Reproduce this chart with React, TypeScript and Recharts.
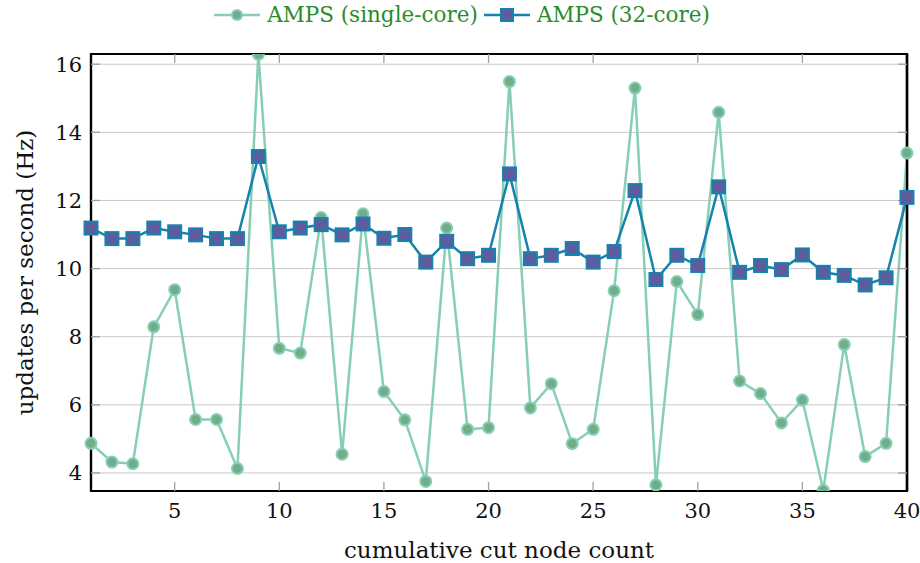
import { LineChart, Line, XAxis, YAxis, CartesianGrid, Legend, ReferenceArea, ReferenceLine } from "recharts";

const nodeCounts = Array.from({ length: 40 }, (_, i) => i + 1);

const singleCore = [
  4.87, 4.32, 4.27, 8.29, 9.38, 5.57, 5.57, 4.13, 16.29, 7.66,
  7.52, 11.5, 4.55, 11.61, 6.39, 5.56, 3.75, 11.19, 5.28, 5.33,
  15.49, 5.91, 6.62, 4.86, 5.28, 9.35, 15.3, 3.65, 9.62, 8.65,
  14.59, 6.7, 6.33, 5.47, 6.14, 3.49, 7.77, 4.48, 4.87, 13.39,
];

const core32 = [
  11.19, 10.88, 10.88, 11.19, 11.08, 10.99, 10.88, 10.88, 13.29, 11.08,
  11.19, 11.29, 10.99, 11.31, 10.89, 11.0, 10.19, 10.8, 10.29, 10.39,
  12.78, 10.29, 10.39, 10.59, 10.19, 10.5, 12.29, 9.68, 10.39, 10.09,
  12.4, 9.89, 10.09, 9.97, 10.4, 9.89, 9.8, 9.52, 9.73, 12.09,
];

const xTicks = [5, 10, 15, 20, 25, 30, 35, 40];
const yTicks = [4, 6, 8, 10, 12, 14, 16];
const Y_MIN = 3.47;
const Y_MAX = 16.3;

const SINGLE_LINE = "#86cfb6";
const SINGLE_FILL = "#72ad8a";
const MULTI_LINE = "#1683ad";
const MULTI_FILL = "#5d5c9e";
const TICK_GRAY = "#a0a0a0";
const FONT = "DejaVu Serif";

const data = nodeCounts.map((x, i) => ({
  x,
  single: singleCore[i],
  multi: core32[i],
}));

function SquareDot(props: any) {
  const { cx, cy, index } = props;
  if (cx == null || cy == null) return null;
  return (
    <rect
      key={`sq-${index}`}
      x={cx - 6.5}
      y={cy - 6.5}
      width={13}
      height={13}
      fill={MULTI_FILL}
      stroke={MULTI_LINE}
      strokeWidth={2}
    />
  );
}

function LegendContent() {
  const item = (label: string, square: boolean) => (
    <span style={{ display: "inline-flex", alignItems: "center", marginRight: 6 }}>
      <svg width={46} height={16} style={{ marginRight: 7 }}>
        <line
          x1={0}
          y1={8}
          x2={46}
          y2={8}
          stroke={square ? MULTI_LINE : SINGLE_LINE}
          strokeWidth={2.5}
        />
        {square ? (
          <rect x={17} y={2} width={12} height={12} fill={MULTI_FILL} stroke={MULTI_LINE} strokeWidth={2} />
        ) : (
          <circle cx={23} cy={8} r={5} fill={SINGLE_FILL} stroke={SINGLE_LINE} strokeWidth={2} />
        )}
      </svg>
      <span>{label}</span>
    </span>
  );
  return (
    <div
      style={{
        width: 920,
        paddingLeft: 10,
        boxSizing: "border-box",
        textAlign: "center",
        fontFamily: FONT,
        fontSize: 21.5,
        color: "#2a8c2a",
        whiteSpace: "nowrap",
      }}
    >
      {item("AMPS (single-core)", false)}
      {item("AMPS (32-core)", true)}
    </div>
  );
}

export default function App() {
  const tickStyle = { fontSize: 21, fill: "#111", fontFamily: FONT };
  return (
    <div style={{ position: "absolute", left: 0, top: 0, background: "#fff" }}>
      <LineChart
        width={920}
        height={563}
        data={data}
        margin={{ top: 53, right: 0, bottom: 0, left: 0 }}
      >
        <CartesianGrid
          vertical={false}
          stroke="#c8c8c8"
          xAxisId="b"
          yAxisId="l"
        />
        <XAxis
          xAxisId="b"
          dataKey="x"
          type="number"
          domain={[1, 40]}
          ticks={xTicks}
          height={72}
          axisLine={{ stroke: "#000", strokeWidth: 2.2 }}
          tickLine={{ stroke: TICK_GRAY, strokeWidth: 1.3 }}
          tickSize={-9}
          tickMargin={21}
          tick={tickStyle}
          label={{
            value: "cumulative cut node count",
            position: "insideBottom",
            offset: 5,
            style: { fontSize: 23, fill: "#111", fontFamily: FONT },
          }}
        />
        <XAxis
          xAxisId="t"
          orientation="top"
          dataKey="x"
          type="number"
          domain={[1, 40]}
          ticks={xTicks}
          height={1}
          axisLine={false}
          tickLine={{ stroke: TICK_GRAY, strokeWidth: 1.3 }}
          tickSize={-9}
          tickFormatter={() => ""}
        />
        <YAxis
          yAxisId="l"
          type="number"
          domain={[Y_MIN, Y_MAX]}
          ticks={yTicks}
          allowDataOverflow
          width={91}
          axisLine={{ stroke: "#000", strokeWidth: 2.2 }}
          tickLine={{ stroke: TICK_GRAY, strokeWidth: 1.3 }}
          tickSize={-9}
          tickMargin={18}
          tick={tickStyle}
          label={{
            value: "updates per second (Hz)",
            angle: -90,
            position: "insideLeft",
            offset: 25,
            style: { fontSize: 23, fill: "#111", fontFamily: FONT, textAnchor: "middle" },
          }}
        />
        <YAxis
          yAxisId="r"
          orientation="right"
          type="number"
          domain={[Y_MIN, Y_MAX]}
          ticks={yTicks}
          allowDataOverflow
          width={13}
          axisLine={{ stroke: "#000", strokeWidth: 2.2 }}
          tickLine={{ stroke: TICK_GRAY, strokeWidth: 1.3 }}
          tickSize={-9}
          tickFormatter={() => ""}
        />
        <ReferenceArea
          xAxisId="b"
          yAxisId="l"
          x1={1}
          x2={40}
          y1={Y_MIN}
          y2={Y_MAX}
          fill="none"
          fillOpacity={0}
          stroke="#000"
          strokeWidth={2.2}
          ifOverflow="visible"
        />
        <ReferenceLine
          xAxisId="b"
          yAxisId="l"
          x={40}
          stroke="#000"
          strokeWidth={2.4}
          ifOverflow="visible"
        />
        <Legend
          verticalAlign="middle"
          align="center"
          wrapperStyle={{ top: 2, left: 0, width: 920 }}
          content={<LegendContent />}
        />
        <Line
          xAxisId="b"
          yAxisId="l"
          dataKey="single"
          stroke={SINGLE_LINE}
          strokeWidth={2.5}
          dot={{ r: 5.5, fill: SINGLE_FILL, stroke: SINGLE_LINE, strokeWidth: 2 }}
          isAnimationActive={false}
        />
        <Line
          xAxisId="b"
          yAxisId="l"
          dataKey="multi"
          stroke={MULTI_LINE}
          strokeWidth={2.5}
          dot={<SquareDot />}
          isAnimationActive={false}
        />
      </LineChart>
    </div>
  );
}
